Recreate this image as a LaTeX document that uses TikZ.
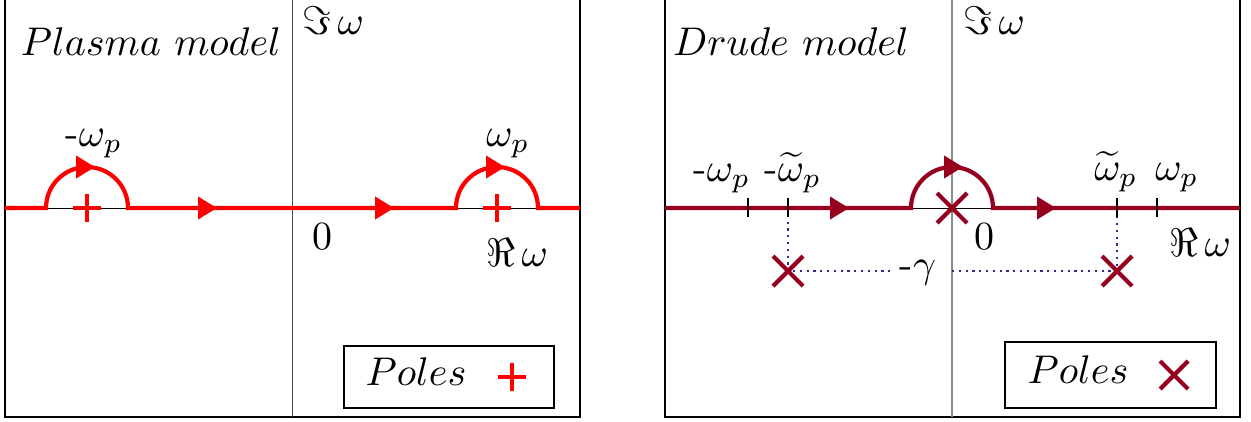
\documentclass[tikz,border=0pt]{standalone}
\usepackage{amsmath}
\usetikzlibrary{arrows.meta}
\definecolor{drude}{RGB}{150,0,30}
\definecolor{dotblue}{RGB}{45,45,140}
\tikzset{
  frame/.style={line width=0.5pt},
  contour/.style={line width=1.05pt},
  arrowtip/.style={line width=1pt,-{Triangle[length=4.75pt,width=5.5pt]}},
  marker/.style={line width=1.05pt},
  tickmark/.style={line width=0.35pt},
  axisline/.style={line width=0.25pt},
  guide/.style={line width=0.6pt, dotblue, dash pattern=on 0.55pt off 1.15pt},
  lbl/.style={inner sep=0pt, anchor=base},
}
\begin{document}
\begin{tikzpicture}[x=0.25pt,y=-0.25pt]
\useasboundingbox (0,0) rectangle (1251,421);
% ---------------- left panel: plasma model
\draw[frame] (5,0) -- (5,417) -- (580,417) -- (580,0);
\draw[axisline, black!70] (292,0) -- (292,417);
\draw[axisline] (5,208) -- (580,208);
\draw[contour, red] (5,208) -- (46,208) arc[start angle=180,end angle=0,radius=10.25pt]
  -- (456,208) arc[start angle=180,end angle=0,radius=10.25pt] -- (580,208);
\draw[arrowtip, red] (192,208) -- (217,208);
\draw[arrowtip, red] (370,208) -- (394,208);
\draw[arrowtip, red] (80,167) -- (95,167);
\draw[arrowtip, red] (490,167) -- (505,167);
\draw[marker, red] (73,208) -- (101,208) (87,194) -- (87,222);
\draw[marker, red] (483,208) -- (511,208) (497,194) -- (497,222);
\node[lbl] (titleL) at (151,55) {$Plasma\ model$};
\node[lbl] (imL) at (333,34) {$\Im\,\omega$};
\node[lbl] (mwpL) at (94,146) {$\text{-}\omega_p$};
\node[lbl] (wpL) at (508,146) {$\omega_p$};
\node[lbl] (zeroL) at (322,249) {$0$};
\node[lbl] (reL) at (517,266) {$\Re\,\omega$};
\draw[frame] (344,346) rectangle (554,408);
\node[lbl] (polesL) at (416,385) {$Poles$};
\draw[marker, red] (498,377) -- (526,377) (512,363) -- (512,391);
% ---------------- right panel: Drude model
\draw[frame] (665,0) -- (665,417) -- (1240,417) -- (1240,0);
\draw[line width=0.4pt, black!45] (952,0) -- (952,417);
\draw[axisline] (665,208) -- (1240,208);
\draw[guide] (788,208) -- (788,271) -- (890,271);
\draw[guide] (952,271) -- (1117,271) -- (1117,208);
\draw[contour, drude] (665,208) -- (911,208) arc[start angle=180,end angle=0,radius=10.25pt] -- (1240,208);
\draw[arrowtip, drude] (825,208) -- (849,208);
\draw[arrowtip, drude] (1032,208) -- (1056,208);
\draw[arrowtip, drude] (948,167) -- (963,167);
\foreach \tx in {748,788,1117,1157} \draw[tickmark] (\tx,198) -- (\tx,217);
\draw[marker, drude] (937,193) -- (967,223) (937,223) -- (967,193);
\draw[marker, drude] (773,256) -- (803,286) (773,286) -- (803,256);
\draw[marker, drude] (1102,256) -- (1132,286) (1102,286) -- (1132,256);
\node[lbl] (titleR) at (791,55) {$Drude\ model$};
\node[lbl] (imR) at (994,34) {$\Im\,\omega$};
\node[lbl] (mwpR) at (722,181) {$\text{-}\omega_p$};
\node[lbl] (mwtR) at (793,181) {$\text{-}\widetilde{\omega}_p$};
\node[lbl] (wtR) at (1116,180) {$\widetilde{\omega}_p$};
\node[lbl] (wpR) at (1177,180) {$\omega_p$};
\node[lbl] (zeroR) at (984,249) {$0$};
\node[lbl] (reR) at (1200,256) {$\Re\,\omega$};
\node[lbl] (gamR) at (918,277) {$\text{-}\gamma$};
\draw[frame] (1005,342) rectangle (1216,408);
\node[lbl] (polesR) at (1078,383) {$Poles$};
\draw[marker, drude] (1160,361) -- (1188,389) (1160,389) -- (1188,361);
\end{tikzpicture}
\end{document}
